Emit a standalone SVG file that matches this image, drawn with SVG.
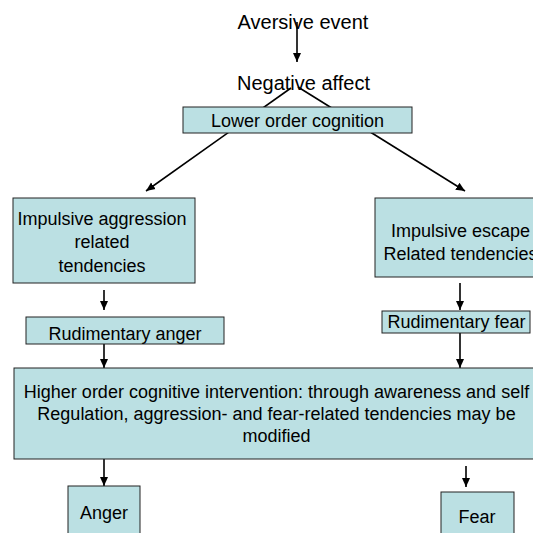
<svg xmlns="http://www.w3.org/2000/svg" width="533" height="533" viewBox="0 0 533 533">
<style>
.box{fill:#bbe0e3;stroke:#222;stroke-width:1}
.t{font-family:"Liberation Sans",Arial,sans-serif;font-size:18px;fill:#000;text-anchor:middle}
.tl{font-family:"Liberation Sans",Arial,sans-serif;font-size:20px;fill:#000;text-anchor:middle}
.c{stroke:#000;stroke-width:1.6;fill:none;marker-end:url(#ah)}
</style>
<defs>
<marker id="ah" markerUnits="userSpaceOnUse" markerWidth="10" markerHeight="10" viewBox="0 0 10 10" refX="9" refY="5" orient="auto">
<path d="M0,1 L9,5 L0,9 Z" fill="#000"/>
</marker>
</defs>
<rect width="533" height="533" fill="#fff"/>
<g id="connectors">
<line class="c" x1="297" y1="22" x2="297" y2="62"/>
<line class="c" x1="291" y1="88" x2="146" y2="191"/>
<line class="c" x1="298" y1="87" x2="465" y2="191"/>
<line class="c" x1="104" y1="290" x2="104" y2="310"/>
<line class="c" x1="460" y1="283" x2="460" y2="310"/>
<line class="c" x1="104" y1="344" x2="104" y2="368"/>
<line class="c" x1="460" y1="333" x2="460" y2="368"/>
<line class="c" x1="104" y1="459" x2="104" y2="486"/>
<line class="c" x1="466" y1="466" x2="466" y2="487"/>
</g>
<g id="aversive"><text class="tl" x="303" y="29">Aversive event</text></g>
<g id="negative"><text class="tl" x="303.5" y="90">Negative affect</text></g>
<g id="lower"><rect class="box" x="183" y="107" width="229" height="26"/><text class="t" x="297.5" y="127">Lower order cognition</text></g>
<g id="aggression"><rect class="box" x="13" y="198" width="182" height="85"/><text class="t" x="102" y="225">Impulsive aggression</text><text class="t" x="102" y="248">related</text><text class="t" x="102" y="272">tendencies</text></g>
<g id="escape"><rect class="box" x="375" y="198" width="170" height="79"/><text class="t" x="460.5" y="237">Impulsive escape</text><text class="t" x="460.5" y="260">Related tendencies</text></g>
<g id="ranger"><rect class="box" x="26" y="317" width="198" height="27"/><text class="t" x="125" y="340">Rudimentary anger</text></g>
<g id="rfear"><rect class="box" x="382" y="311" width="148" height="22"/><text class="t" x="456.5" y="328">Rudimentary fear</text></g>
<g id="higher"><rect class="box" x="14" y="368" width="525" height="91"/><text class="t" x="276.5" y="398">Higher order cognitive intervention: through awareness and self</text><text class="t" x="276.5" y="420">Regulation, aggression- and fear-related tendencies may be</text><text class="t" x="276.5" y="442">modified</text></g>
<g id="anger"><rect class="box" x="68" y="486" width="72" height="60"/><text class="t" x="104" y="519">Anger</text></g>
<g id="fear"><rect class="box" x="441" y="492" width="73" height="60"/><text class="t" x="477" y="523">Fear</text></g>
</svg>
